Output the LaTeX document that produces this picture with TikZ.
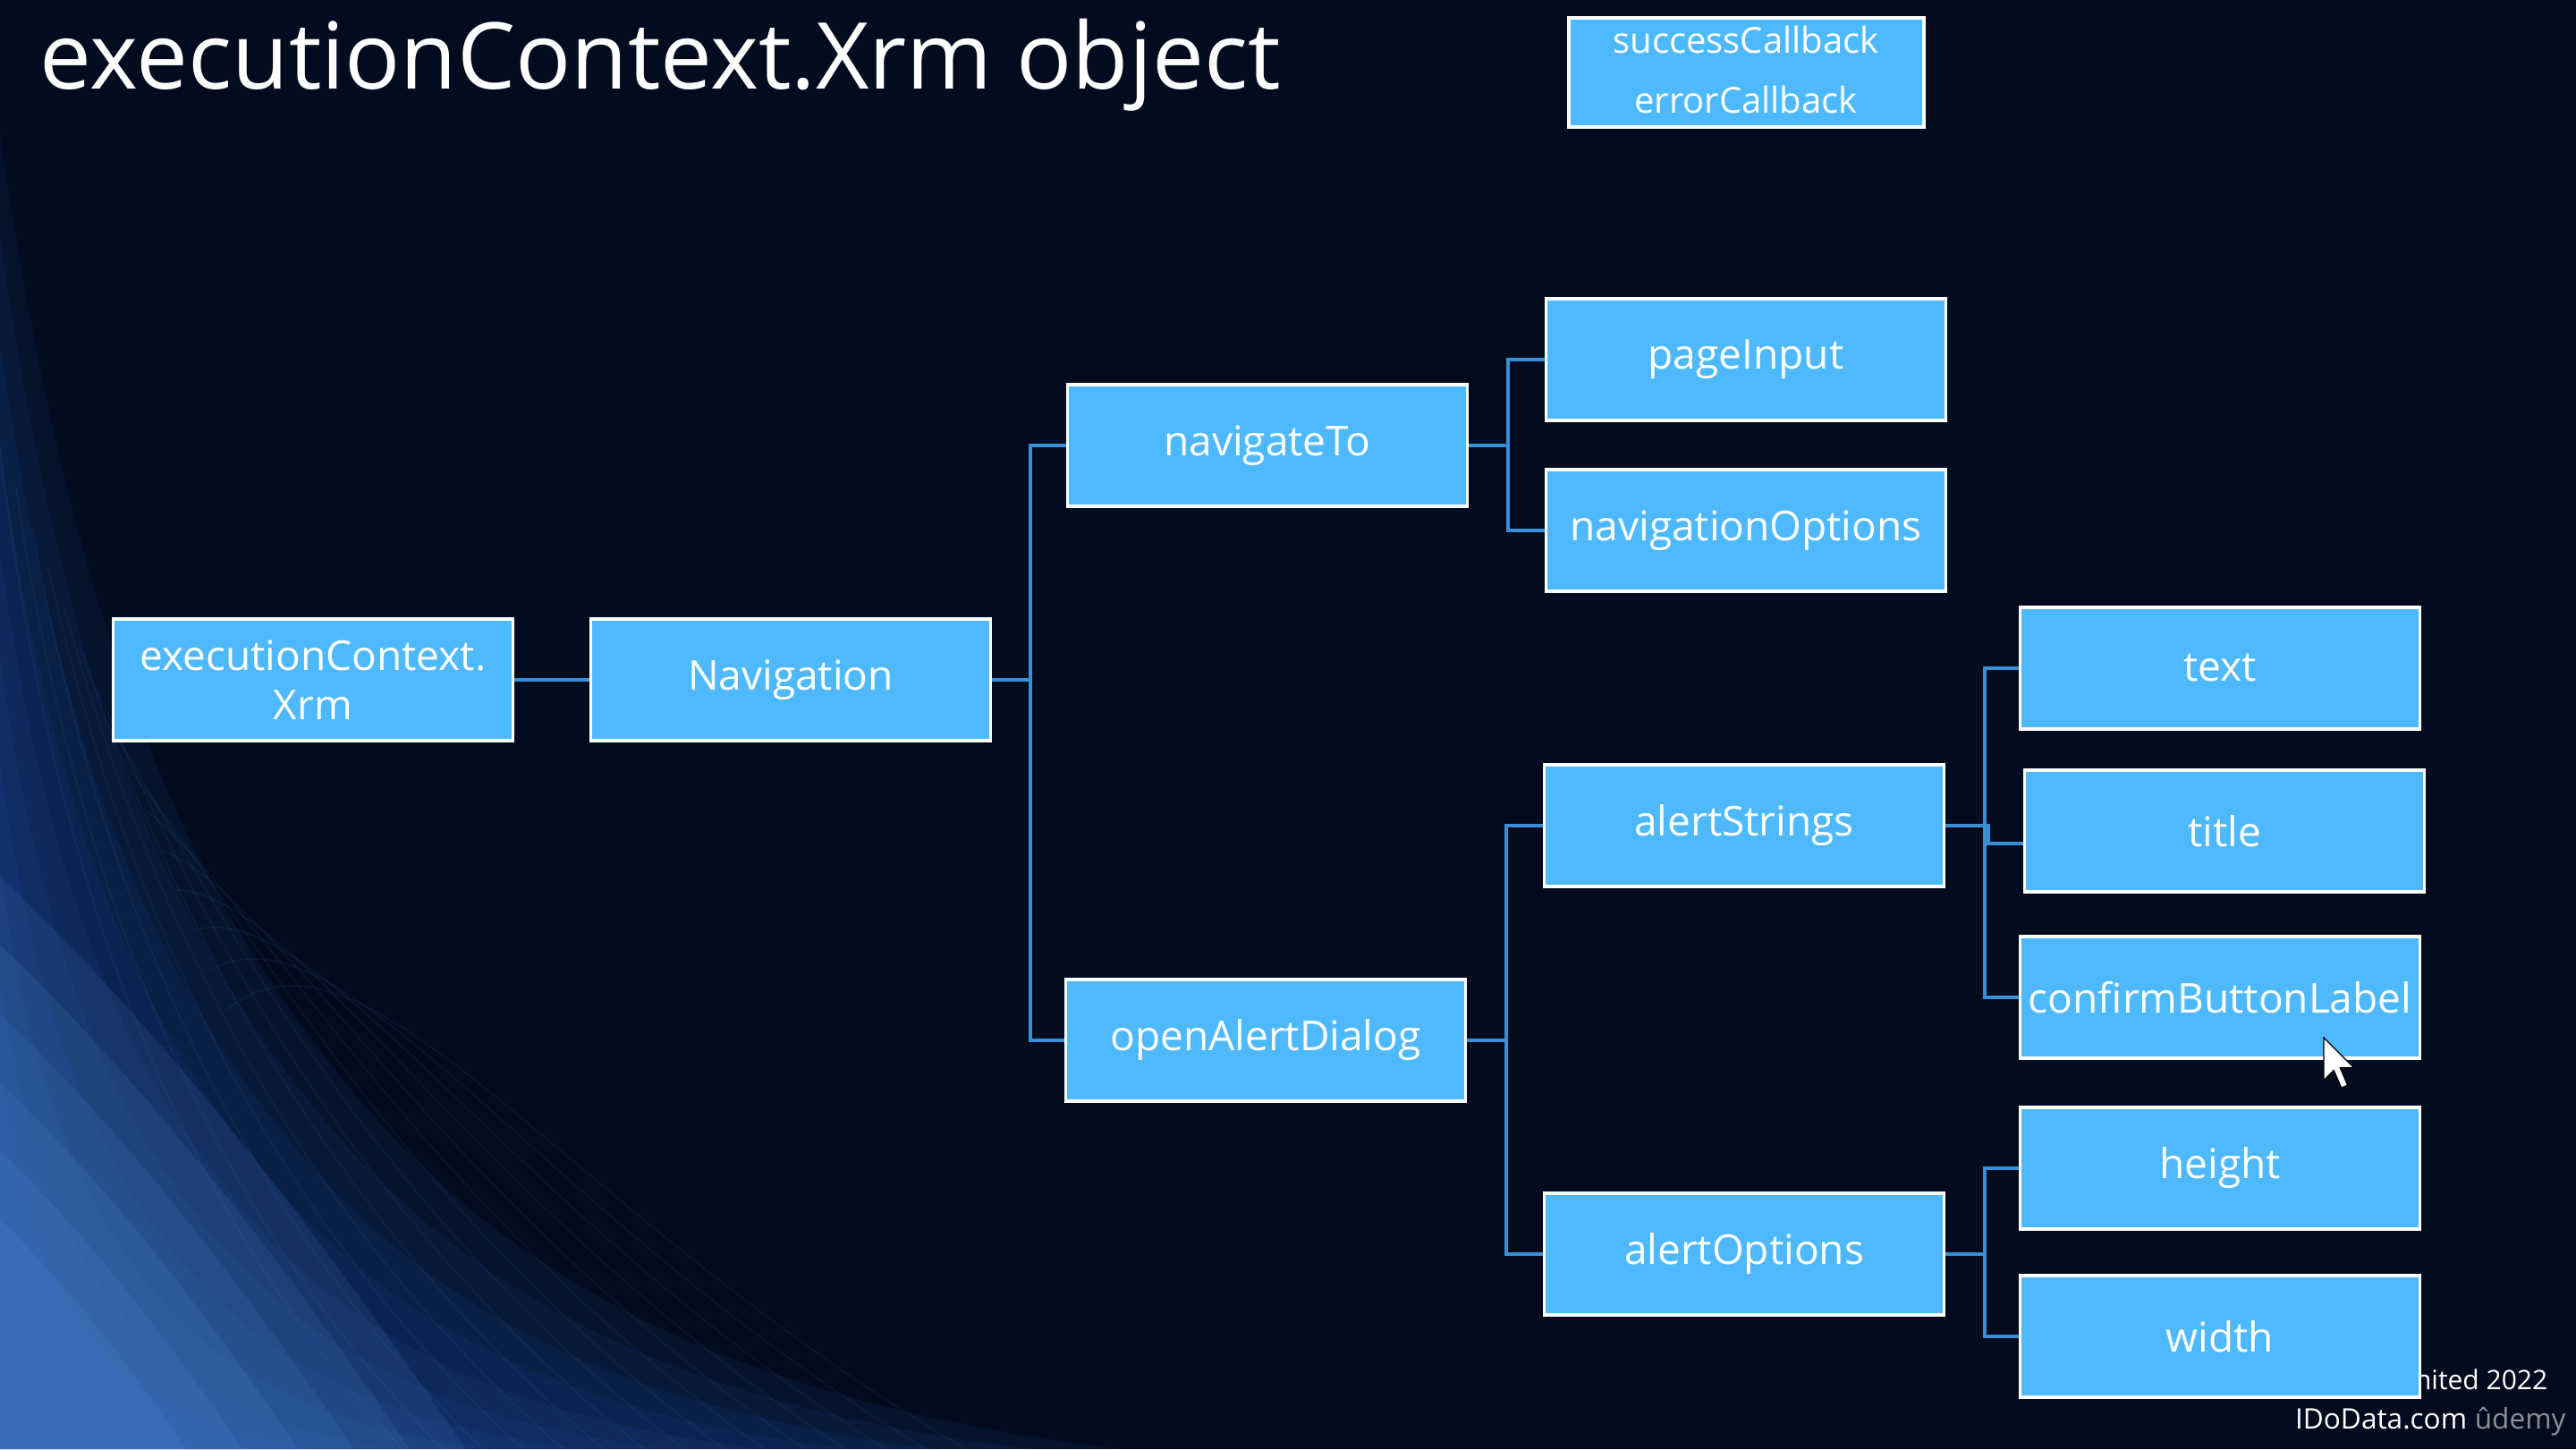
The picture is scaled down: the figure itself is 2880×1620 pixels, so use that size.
\documentclass[tikz,border=0pt]{standalone}
\usepackage{fontspec}
\setmainfont{Open Sans}
\definecolor{bgc}{RGB}{2,12,30}
\definecolor{boxc}{RGB}{78,185,255}
\definecolor{linec}{RGB}{58,142,214}
\definecolor{glowc}{RGB}{40,100,205}
\definecolor{glowb}{RGB}{100,165,240}
\definecolor{udemyc}{RGB}{140,143,148}
\begin{document}
\begin{tikzpicture}[x=0.25pt,y=-0.25pt,
  box/.style={draw=white,line width=0.9pt,fill=boxc,text=white,inner sep=0pt,
    minimum width=111.75pt,minimum height=34pt,font=\fontsize{11.5}{13.75}\selectfont,align=center},
  smallbox/.style={draw=white,line width=0.9pt,fill=boxc,inner sep=0pt,
    minimum width=99.25pt,minimum height=30.5pt},
  smalltext/.style={anchor=base,text=white,inner sep=0pt,font=\fontsize{10}{12}\selectfont},
  foot/.style={inner sep=0pt,font=\fontsize{7.9}{9}\selectfont},
  conn/.style={draw=linec,line width=1pt}]
\useasboundingbox (0,0) rectangle (2880,1620);
% background
\fill[bgc] (0,0) rectangle (2880,1620);
\foreach \s in {1.0,0.92,0.84,0.76,0.68,0.6,0.52,0.44,0.36,0.28}{
  \fill[glowc,opacity=0.085,scale around={\s:(0,1620)}]
    (0,150) .. controls (80,700) and (200,1000) .. (420,1250)
    .. controls (600,1450) and (850,1570) .. (1250,1620) -- (0,1620) -- cycle;
}
\foreach \s in {1.0,0.88,0.76,0.64,0.52,0.4}{
  \fill[glowb,opacity=0.10,scale around={\s:(0,1620)}]
    (0,980) .. controls (180,1150) and (360,1380) .. (520,1620) -- (0,1620) -- cycle;
}
\foreach \k in {0,...,14}{
  \draw[glowb,opacity=0.07,line width=0.4pt]
    (\k*18,500+\k*45) .. controls (60+\k*25,1000) and (200+\k*30,1350) .. (450+\k*45,1620);
}
% title
\node[anchor=base west,text=white,inner sep=0pt,font=\fontsize{25.8}{30}\selectfont] (ttl) at (44,99) {executionContext.Xrm object};
% footer
\node[foot,anchor=base east,text=white,font=\fontsize{7.5}{9}\selectfont] (ft1) at (2849,1553) {nited 2022};
\node[foot,anchor=base east,text=white] (ft2) at (2759,1597) {IDoData.com};
\node[foot,anchor=base west,text=udemyc] (ft3) at (2766,1597) {ûdemy};
% nodes
\node[smallbox] (cb) at (1952.5,81) {};
\node[smalltext] (cb1) at (1952,59) {successCallback};
\node[smalltext] (cb2) at (1952,126) {errorCallback};
\node[box] (xrm) at (350,760) {executionContext.\\Xrm};
\node[box] (nav) at (884,760) {Navigation};
\node[box] (navto) at (1417,498) {navigateTo};
\node[box] (page) at (1952,402) {pageInput};
\node[box] (navopt) at (1952,593) {navigationOptions};
\node[box] (oad) at (1415,1163) {openAlertDialog};
\node[box] (astr) at (1950,923) {alertStrings};
\node[box] (aopt) at (1950,1402) {alertOptions};
\node[box] (txt) at (2482,747) {text};
\node[box] (tit) at (2487,929) {title};
\node[box] (conf) at (2482,1115) {confirmButtonLabel};
\node[box] (hgt) at (2482,1306) {height};
\node[box] (wdt) at (2482,1494) {width};
% connectors
\draw[conn] (xrm.east) -- (nav.west);
\draw[conn] (nav.east) -- ++(43,0) |- (navto.west);
\draw[conn] (nav.east) -- ++(43,0) |- (oad.west);
\draw[conn] (navto.east) -- ++(44,0) |- (page.west);
\draw[conn] (navto.east) -- ++(44,0) |- (navopt.west);
\draw[conn] (oad.east) -- ++(44,0) |- (astr.west);
\draw[conn] (oad.east) -- ++(44,0) |- (aopt.west);
\draw[conn] (astr.east) -- ++(44,0) |- (txt.west);
\draw[conn] (astr.east) -- ++(48,0) |- ([yshift=-3.5pt]tit.west);
\draw[conn] (astr.east) -- ++(44,0) |- (conf.west);
\draw[conn] (aopt.east) -- ++(44,0) |- (hgt.west);
\draw[conn] (aopt.east) -- ++(44,0) |- (wdt.west);
% cursor
\coordinate (cur) at (2598,1160);
\draw[fill=white,draw=black,line width=0.3pt,shift={(cur)},x=0.7pt,y=-0.7pt]
  (0,0) -- (0,17) -- (4,13) -- (7,20) -- (9.5,19) -- (6.5,12) -- (12,12) -- cycle;
\end{tikzpicture}
\end{document}
